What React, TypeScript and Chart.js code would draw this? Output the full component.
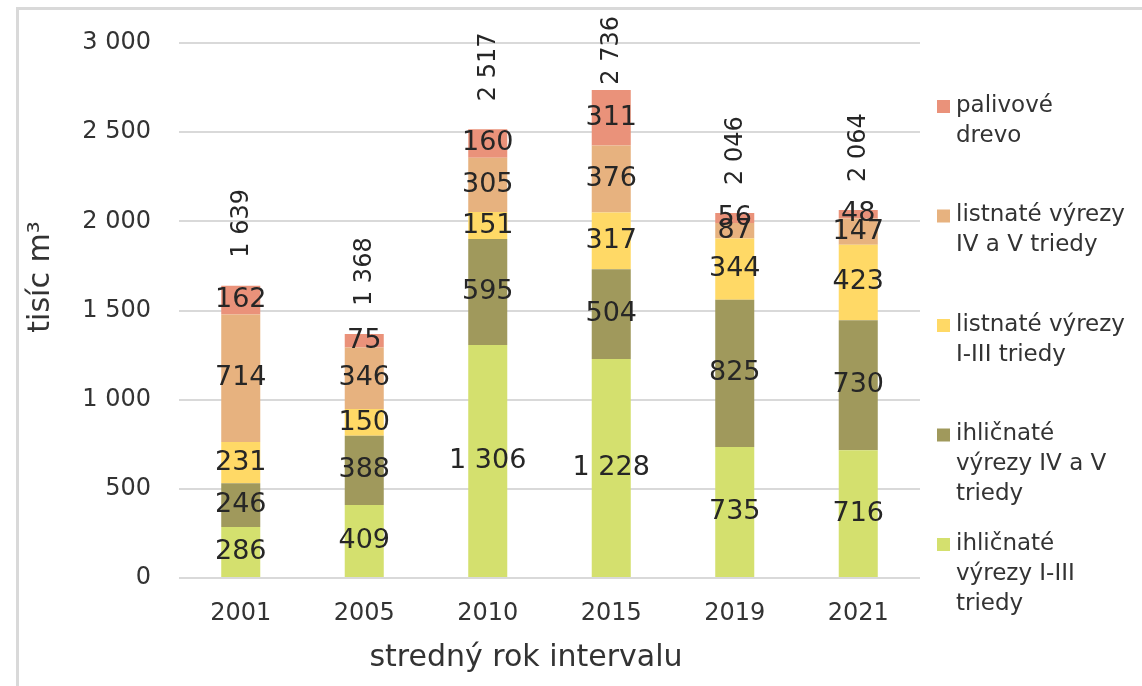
import React, { useEffect, useRef } from "react";
import { Chart, registerables } from "chart.js";

Chart.register(...registerables);

const categories = ["2001", "2005", "2010", "2015", "2019", "2021"];
const ihlicnateI_III = [286, 409, 1306, 1228, 735, 716];
const ihlicnateIV_V = [246, 388, 595, 504, 825, 730];
const listnateI_III = [231, 150, 151, 317, 344, 423];
const listnateIV_V = [714, 346, 305, 376, 87, 147];
const palivoveDrevo = [162, 75, 160, 311, 56, 48];
const totals = [1639, 1368, 2517, 2736, 2046, 2064];

const seriesLines = [
  ["ihličnaté", "výrezy I-III", "triedy"],
  ["ihličnaté", "výrezy IV a V", "triedy"],
  ["listnaté výrezy", "I-III triedy"],
  ["listnaté výrezy", "IV a V triedy"],
  ["palivové", "drevo"],
];
const seriesValues = [ihlicnateI_III, ihlicnateIV_V, listnateI_III, listnateIV_V, palivoveDrevo];
const seriesColors = ["#D4E06E", "#A0995C", "#FFD966", "#E7B27F", "#EA927A"];

const yAxisTitle = "tisíc m³";
const xAxisTitle = "stredný rok intervalu";
const yMax = 3000;
const yStep = 500;

const FONT = "'DejaVu Sans', sans-serif";
const TEXT = "#333333";
const LABEL = "#262626";

const fmt = (n: number) => String(n).replace(/\B(?=(\d{3})+(?!\d))/g, " ");

const decorPlugin = {
  id: "decor",
  beforeDraw(chart: any) {
    const ctx = chart.ctx;
    ctx.save();
    ctx.fillStyle = "#ffffff";
    ctx.fillRect(0, 0, chart.width, chart.height);
    ctx.strokeStyle = "#d9d9d9";
    ctx.lineWidth = 3;
    ctx.beginPath();
    ctx.moveTo(16, 8.5);
    ctx.lineTo(chart.width, 8.5);
    ctx.moveTo(17.5, 7);
    ctx.lineTo(17.5, chart.height);
    ctx.stroke();
    ctx.restore();
  },
  afterDraw(chart: any) {
    const ctx = chart.ctx;
    ctx.save();
    // axis titles
    ctx.fillStyle = TEXT;
    ctx.font = `30px ${FONT}`;
    ctx.textAlign = "center";
    ctx.textBaseline = "middle";
    ctx.fillText(xAxisTitle, 526, 658);
    ctx.save();
    ctx.translate(41, 277);
    ctx.rotate(-Math.PI / 2);
    ctx.fillText(yAxisTitle, 0, 0);
    ctx.restore();

    // legend (top entry = last dataset)
    ctx.font = `23px ${FONT}`;
    ctx.textAlign = "left";
    const n = chart.data.datasets.length;
    for (let k = 0; k < n; k++) {
      const di = n - 1 - k;
      const ds = chart.data.datasets[di];
      const y0 = 106 + k * 109.5;
      ctx.fillStyle = ds.backgroundColor;
      ctx.fillRect(937, y0 - 6, 13, 13);
      ctx.fillStyle = TEXT;
      const lines = seriesLines[di];
      lines.forEach((t, li) => ctx.fillText(t, 956, y0 + li * 30));
    }
    ctx.restore();
  },
  afterDatasetsDraw(chart: any) {
    const ctx = chart.ctx;
    ctx.save();
    ctx.fillStyle = LABEL;
    ctx.textAlign = "center";
    ctx.textBaseline = "middle";
    ctx.font = `27px ${FONT}`;
    chart.data.datasets.forEach((ds: any, di: number) => {
      const meta = chart.getDatasetMeta(di);
      meta.data.forEach((el: any, i: number) => {
        const v = ds.data[i];
        ctx.fillText(fmt(v), el.x, (el.y + el.base) / 2);
      });
    });
    // totals, rotated
    ctx.font = `24px ${FONT}`;
    const topMeta = chart.getDatasetMeta(chart.data.datasets.length - 1);
    topMeta.data.forEach((el: any, i: number) => {
      const txt = fmt(totals[i]);
      const w = ctx.measureText(txt).width;
      let bottom = el.y - 28;
      if (bottom - w < 16) bottom = 16 + w;
      ctx.save();
      ctx.translate(el.x + 1, bottom);
      ctx.rotate(-Math.PI / 2);
      ctx.textAlign = "left";
      ctx.fillText(txt, 0, 0);
      ctx.restore();
    });
    ctx.restore();
  },
};

export default function App() {
  const ref = useRef<HTMLCanvasElement>(null);
  useEffect(() => {
    if (!ref.current) return;
    const chart = new Chart(ref.current, {
      type: "bar",
      data: {
        labels: categories,
        datasets: seriesValues.map((vals, i) => ({
          label: seriesLines[i].join(" "),
          data: vals,
          backgroundColor: seriesColors[i],
          borderWidth: 0,
          barPercentage: 0.316,
          categoryPercentage: 1,
        })),
      },
      options: {
        animation: false,
        responsive: false,
        devicePixelRatio: 1,
        layout: { padding: { top: 43, right: 222, bottom: 0, left: 0 } },
        plugins: { legend: { display: false }, tooltip: { enabled: false } },
        scales: {
          x: {
            stacked: true,
            grid: { display: false, drawTicks: false },
            border: { display: false },
            ticks: { color: TEXT, font: { family: FONT, size: 24 }, padding: 21 },
            afterFit: (s: any) => {
              s.height = 108;
            },
          },
          y: {
            stacked: true,
            min: 0,
            max: yMax,
            grid: { color: "#d9d9d9", lineWidth: 2, drawTicks: false },
            border: { display: false },
            ticks: {
              stepSize: yStep,
              color: TEXT,
              font: { family: FONT, size: 24 },
              padding: 28,
              callback: (v: any) => fmt(Number(v)),
            },
            afterFit: (s: any) => {
              s.width = 179;
            },
          },
        },
      },
      plugins: [decorPlugin],
    });
    return () => chart.destroy();
  }, []);
  return (
    <div style={{ position: "fixed", left: 0, top: 0, width: 1142, height: 686 }}>
      <canvas ref={ref} width={1142} height={686} style={{ display: "block" }} />
    </div>
  );
}
